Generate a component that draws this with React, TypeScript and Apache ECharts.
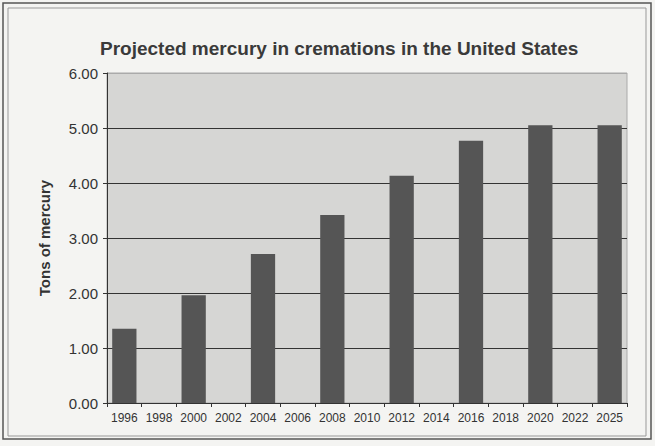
import React, { useEffect, useRef } from "react";
import * as echarts from "echarts";

const title = "Projected mercury in cremations in the United States";
const yAxisName = "Tons of mercury";
const years = ["1996", "1998", "2000", "2002", "2004", "2006", "2008", "2010", "2012", "2014", "2016", "2018", "2020", "2022", "2025"];
const tons: (number | null)[] = [1.35, null, 1.96, null, 2.71, null, 3.42, null, 4.13, null, 4.77, null, 5.05, null, 5.05];

export default function App() {
  const ref = useRef<HTMLDivElement>(null);
  useEffect(() => {
    if (!ref.current) return;
    const chart = echarts.init(ref.current, null, { renderer: "svg" });
    const font = "Liberation Sans, Arial, sans-serif";
    chart.setOption({
      animation: false,
      backgroundColor: "#f4f4f2",
      title: {
        text: title,
        left: 95,
        top: 34,
        textStyle: { fontFamily: font, fontSize: 19, fontWeight: "bold", color: "#3a3a3a" },
      },
      graphic: [
        {
          type: "rect",
          shape: { x: 3, y: 3, width: 648, height: 436 },
          style: { fill: "none", stroke: "#555", lineWidth: 1.5 },
          silent: true,
          z: 100,
        },
        {
          type: "rect",
          shape: { x: 8, y: 8, width: 638, height: 428 },
          style: { fill: "none", stroke: "#999", lineWidth: 1 },
          silent: true,
          z: 100,
        },
      ],
      grid: {
        left: 107,
        right: 28,
        top: 73,
        bottom: 43,
        show: true,
        backgroundColor: "#d6d6d4",
        borderColor: "#aaa",
        borderWidth: 1,
      },
      xAxis: {
        type: "category",
        data: years,
        boundaryGap: true,
        axisLine: { lineStyle: { color: "#333" } },
        axisTick: { show: true, length: 4, lineStyle: { color: "#333" } },
        axisLabel: { fontFamily: font, fontSize: 12, color: "#333", margin: 9, interval: 0 },
      },
      yAxis: {
        type: "value",
        min: 0,
        max: 6,
        interval: 1,
        name: yAxisName,
        nameLocation: "middle",
        nameGap: 55,
        nameTextStyle: { fontFamily: font, fontSize: 15, fontWeight: "bold", color: "#333" },
        axisLine: { show: true, lineStyle: { color: "#333" } },
        axisTick: { show: true, length: 4, lineStyle: { color: "#333" } },
        axisLabel: {
          fontFamily: font,
          fontSize: 15,
          color: "#333",
          margin: 9,
          formatter: (v: number) => v.toFixed(2),
        },
        splitLine: {
          show: true,
          lineStyle: { color: ["#333", "#333", "#333", "#333", "#333", "#333", "#aaa"], width: 1 },
        },
      },
      series: [
        {
          type: "bar",
          data: tons,
          barWidth: "70%",
          itemStyle: { color: "#555555" },
        },
      ],
    });
    return () => chart.dispose();
  }, []);
  return <div ref={ref} style={{ width: 655, height: 446, position: "absolute", left: 0, top: 0 }} />;
}
